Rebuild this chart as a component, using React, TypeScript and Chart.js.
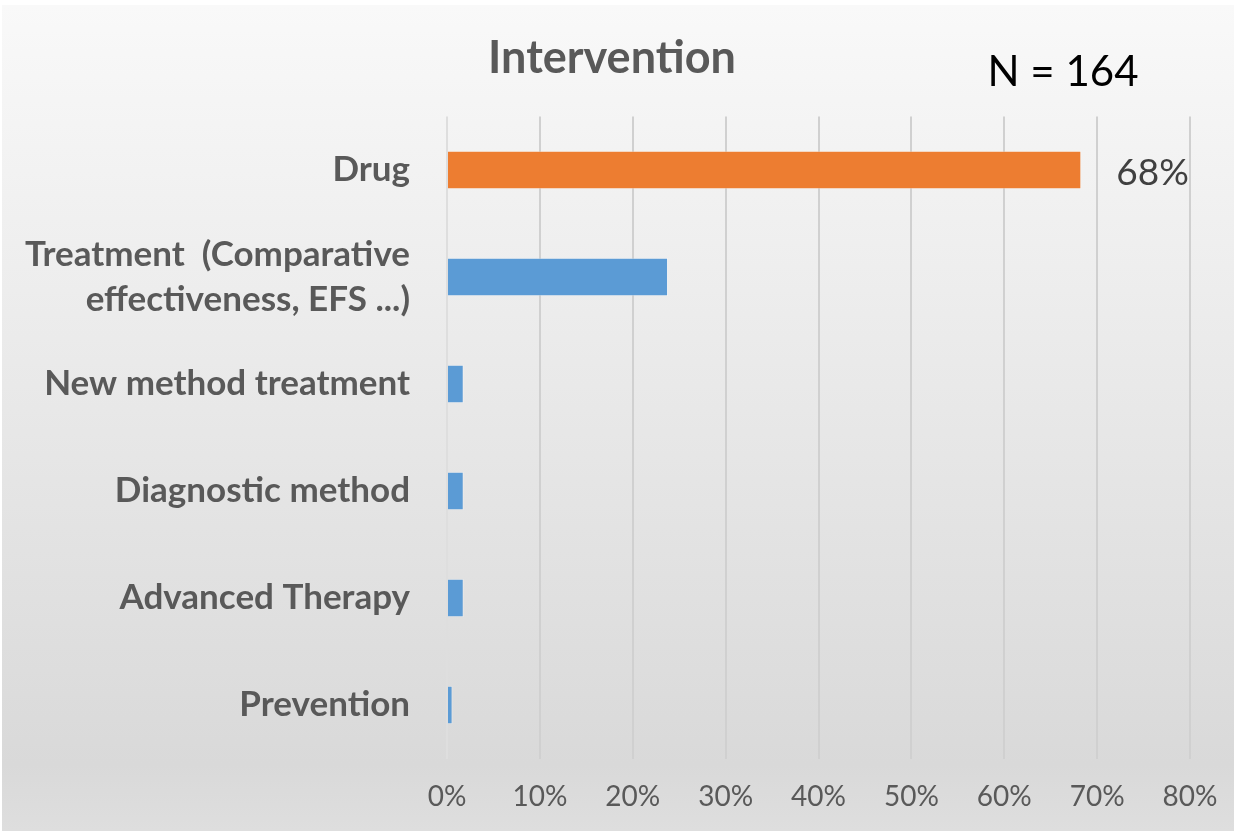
import React, { useEffect, useRef } from "react";
import { Chart, registerables } from "chart.js";

Chart.register(...registerables);

const categories: (string | string[])[] = [
  "Drug",
  ["Treatment  (Comparative", "effectiveness, EFS ...)"],
  "New method treatment",
  "Diagnostic method",
  "Advanced Therapy",
  "Prevention",
];
const shares = [68.3, 23.8, 1.8, 1.8, 1.8, 0.6];
const barColors = ["#ED7D31", "#5B9BD5", "#5B9BD5", "#5B9BD5", "#5B9BD5", "#5B9BD5"];
const valueLabels: (string | null)[] = ["68%", null, null, null, null, null];
const xTicks = [0, 10, 20, 30, 40, 50, 60, 70, 80];
const titleText = "Intervention";
const noteText = "N = 164";

const FONT = "Lato, 'Open Sans', sans-serif";

const decorPlugin = {
  id: "decor",
  beforeDraw(chart: any) {
    const { ctx, width, height } = chart;
    ctx.save();
    ctx.fillStyle = "#ffffff";
    ctx.fillRect(0, 0, width, height);
    const g = ctx.createLinearGradient(0, 5, 0, height);
    g.addColorStop(0, "#f9f9f9");
    g.addColorStop(0.92, "#d9d9d9");
    g.addColorStop(1, "#dedede");
    ctx.fillStyle = g;
    ctx.fillRect(2, 5, width - 2, height - 5);
    ctx.restore();
  },
  afterDatasetsDraw(chart: any) {
    const { ctx } = chart;
    ctx.save();
    const meta = chart.getDatasetMeta(0);
    meta.data.forEach((el: any, i: number) => {
      const lbl = valueLabels[i];
      if (!lbl) return;
      ctx.font = `37px ${FONT}`;
      ctx.fillStyle = "#404040";
      ctx.textAlign = "left";
      ctx.textBaseline = "middle";
      ctx.fillText(lbl, el.x + 35, el.y + 3);
    });
    ctx.font = `bold 45px ${FONT}`;
    ctx.fillStyle = "#595959";
    ctx.textAlign = "center";
    ctx.textBaseline = "middle";
    ctx.fillText(titleText, 612, 58);
    ctx.font = `42px ${FONT}`;
    ctx.fillStyle = "#000000";
    ctx.fillText(noteText, 1063, 72);
    ctx.restore();
  },
};

export default function App() {
  const ref = useRef<HTMLCanvasElement | null>(null);
  useEffect(() => {
    if (!ref.current) return;
    const chart = new Chart(ref.current, {
      type: "bar",
      data: {
        labels: categories,
        datasets: [
          {
            data: shares,
            backgroundColor: barColors,
            borderColor: "rgba(255,255,255,0.35)",
            borderWidth: 1,
            barPercentage: 0.36,
            categoryPercentage: 1,
          },
        ],
      },
      options: {
        indexAxis: "y",
        animation: false,
        responsive: false,
        devicePixelRatio: 1,
        layout: { padding: { left: 0, right: 44, top: 116.5, bottom: 0 } },
        plugins: {
          legend: { display: false },
          title: { display: false },
          tooltip: { enabled: false },
        },
        scales: {
          x: {
            min: 0,
            max: 80,
            afterBuildTicks: (s: any) => {
              s.ticks = xTicks.map((v) => ({ value: v }));
            },
            afterFit: (s: any) => {
              s.height = 72.5;
              s.paddingLeft = 0;
              s.paddingRight = 0;
            },
            border: { display: false },
            grid: {
              drawTicks: false,
              color: (c: any) => (c.index === 0 ? "#dedede" : "#d0d0d0"),
              lineWidth: 2,
            },
            ticks: {
              padding: 22,
              color: "#595959",
              font: { family: FONT, size: 28 },
              callback: (v: any) => `${v}%`,
            },
          },
          y: {
            afterFit: (s: any) => {
              s.width = 447;
              s.paddingTop = 0;
              s.paddingBottom = 0;
            },
            border: { display: false },
            grid: { display: false, drawTicks: false },
            ticks: {
              padding: 37,
              color: "#595959",
              font: { family: FONT, size: 35, weight: "bold", lineHeight: 1.3 },
            },
          },
        },
      },
      plugins: [decorPlugin],
    });
    return () => chart.destroy();
  }, []);
  return (
    <div style={{ position: "fixed", left: 0, top: 0, width: 1234, height: 831 }}>
      <canvas ref={ref} width={1234} height={831} />
    </div>
  );
}
